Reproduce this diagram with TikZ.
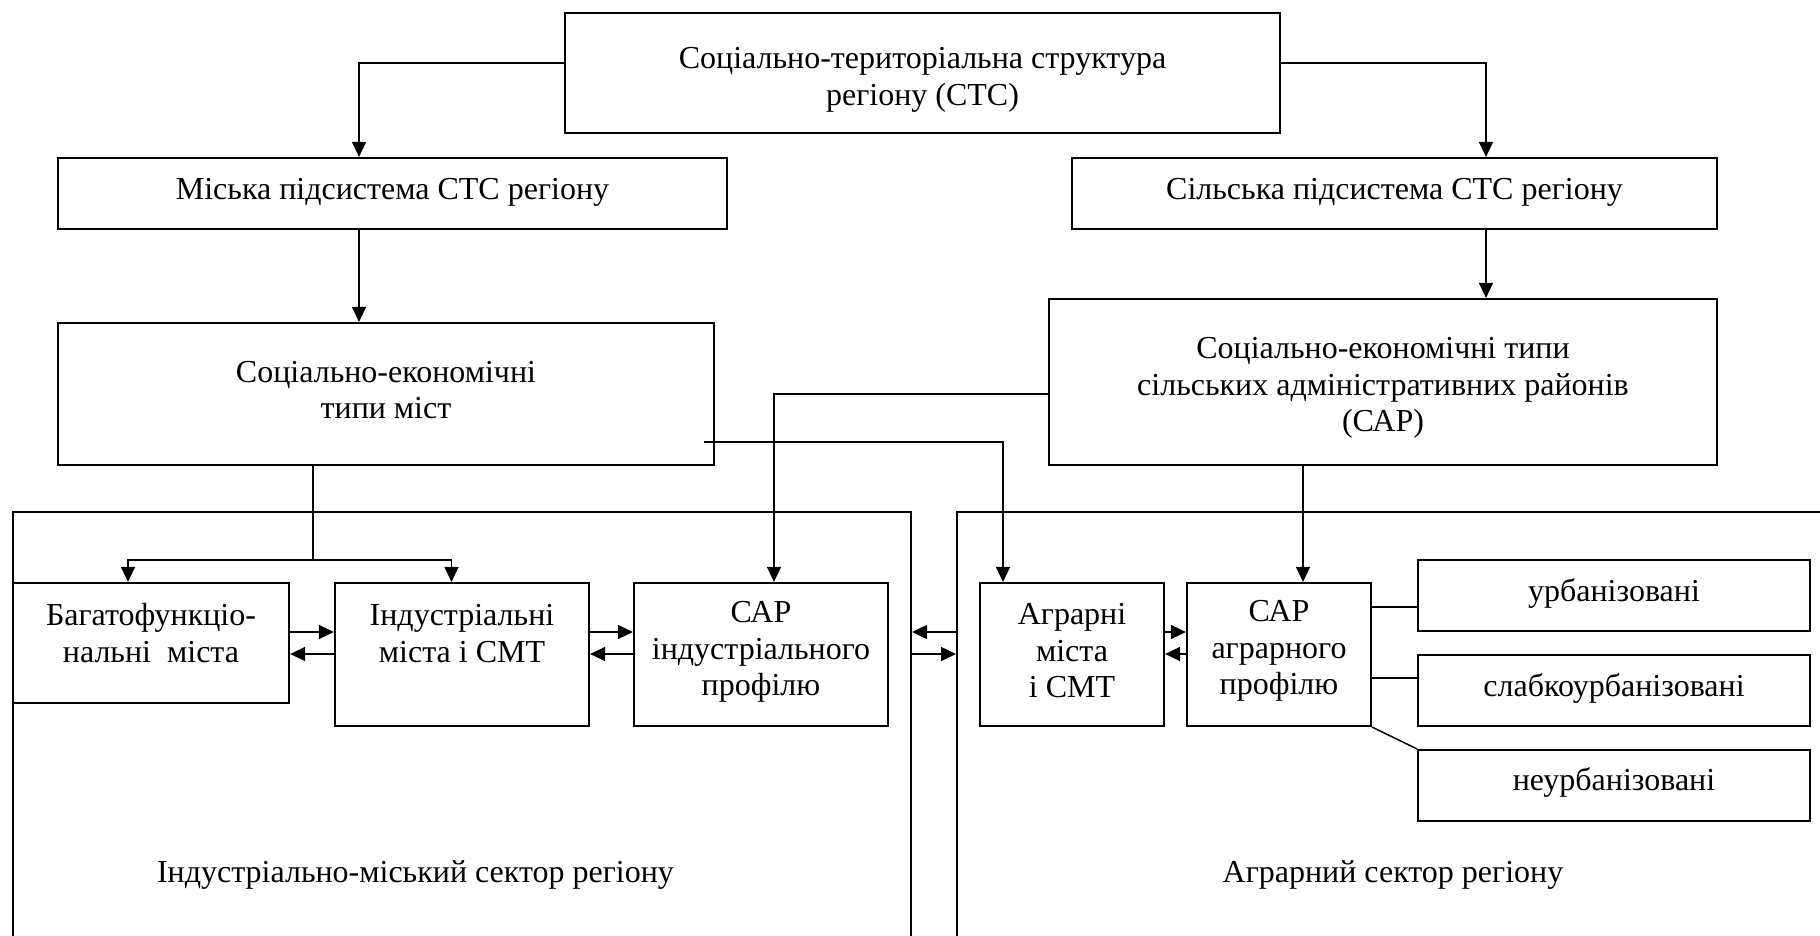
\documentclass[tikz,border=0pt]{standalone}
\usepackage{fontspec}
\setmainfont{Liberation Serif}
\usetikzlibrary{arrows.meta}

\begin{document}
\begin{tikzpicture}[x=1pt, y=-1pt,
    every node/.style={font=\fontsize{32}{36.5}\selectfont},
    box/.style={draw, line width=2.2pt, inner sep=0pt, rectangle},
    frame/.style={draw, line width=2pt, inner sep=0pt, rectangle},
    txt/.style={align=center, inner sep=0pt},
    link/.style={line width=1.5pt},
    arr/.style={line width=1.5pt, -{Triangle[length=15pt,width=14pt]}}]

\useasboundingbox (0,0) rectangle (1820,936);
\clip (0,0) rectangle (1820,936);

% ---- boxes ----
\node[box, minimum width=715pt, minimum height=120pt] (top)  at (922.5,73)   {};
\node[box, minimum width=669pt, minimum height=71pt]  (mis)  at (392.5,193.5) {};
\node[box, minimum width=645pt, minimum height=71pt]  (sil)  at (1394.5,193.5) {};
\node[box, minimum width=656pt, minimum height=142pt] (sem)  at (386,394)    {};
\node[box, minimum width=668pt, minimum height=166pt] (sap)  at (1383,382)   {};

% sector frames (open at the bottom edge of the page)
\node[frame, minimum width=898pt, minimum height=500pt] (frameL) at (462,762)  {};
\node[frame, minimum width=920pt, minimum height=500pt] (frameR) at (1417,762) {};

\node[box, minimum width=276pt, minimum height=120pt] (bag)  at (151,643)    {};
\node[box, minimum width=254pt, minimum height=143pt] (ind)  at (462,654.5)  {};
\node[box, minimum width=254pt, minimum height=143pt] (sapi) at (761,654.5)  {};
\node[box, minimum width=184pt, minimum height=143pt] (agr)  at (1072,654.5) {};
\node[box, minimum width=184pt, minimum height=143pt] (sapa) at (1279,654.5) {};
\node[box, minimum width=392pt, minimum height=71pt]  (urb)  at (1614,595.5) {};
\node[box, minimum width=392pt, minimum height=71pt]  (slab) at (1614,690.5) {};
\node[box, minimum width=392pt, minimum height=71pt]  (neurb) at (1614,785.5) {};

% ---- texts ----
\node[txt] (top-t)  at (922.5,80)  {Соціально-територіальна структура\\регіону (СТС)};
\node[txt] (mis-t)  at (392.5,192) {Міська підсистема СТС регіону};
\node[txt] (sil-t)  at (1394.5,192) {Сільська підсистема СТС регіону};
\node[txt] (sem-t)  at (386,390)   {Соціально-економічні\\типи міст};
\node[txt] (sap-t)  at (1383,388)  {Соціально-економічні типи\\сільських адміністративних районів\\(САР)};
\node[txt] (bag-t)  at (151,633)   {Багатофункціо-\\нальні\ \ міста};
\node[txt] (ind-t)  at (462,633.5) {Індустріальні\\міста і СМТ};
\node[txt] (sapi-t) at (761,652)   {САР\\індустріального\\профілю};
\node[txt] (agr-t)  at (1072,651)  {Аграрні\\міста\\і СМТ};
\node[txt] (sapa-t) at (1279,651)  {САР\\аграрного\\профілю};
\node[txt] (urb-t)  at (1614,593)  {урбанізовані};
\node[txt] (slab-t) at (1614,688)  {слабкоурбанізовані};
\node[txt] (neurb-t) at (1614,782) {неурбанізовані};
\node[txt] (frameL-t) at (415.5,875) {Індустріально-міський сектор регіону};
\node[txt] (frameR-t) at (1393,875)  {Аграрний сектор регіону};

% ---- helper rows ----
\coordinate (rowA) at (0,632);
\coordinate (rowB) at (0,654);
\coordinate (rowU) at (0,607);
\coordinate (rowS) at (0,678);
\coordinate (split) at ([shift={(-73pt,-94pt)}]sem.south);

% ---- connectors ----
\draw[arr] ([yshift=10pt]top.west) -| ([xshift=-33.5pt]mis.north);
\draw[arr] ([yshift=10pt]top.east) -| ([xshift=91.5pt]sil.north);
\draw[arr] ([xshift=-33.5pt]mis.south) -- ([xshift=-27pt]sem.north);
\draw[arr] ([xshift=91.5pt]sil.south) -- ([xshift=103pt]sap.north);

\draw[arr] ([yshift=-12pt]sap.west) -| ([xshift=13pt]sapi.north);
\draw[arr] ([shift={(-11pt,-48pt)}]sem.east) -| ([xshift=-69pt]agr.north);
\draw[arr] ([xshift=-80pt]sap.south) -- ([xshift=24pt]sapa.north);

\draw[link] (sem.south -| split) -- (split);
\draw[arr] (split) -| ([xshift=-23pt]bag.north);
\draw[arr] (split) -| ([xshift=-10.5pt]ind.north);

\draw[arr] (bag.east |- rowA) -- (ind.west |- rowA);
\draw[arr] (ind.west |- rowB) -- (bag.east |- rowB);
\draw[arr] (ind.east |- rowA) -- (sapi.west |- rowA);
\draw[arr] (sapi.west |- rowB) -- (ind.east |- rowB);
\draw[arr] (frameR.west |- rowA) -- (frameL.east |- rowA);
\draw[arr] (frameL.east |- rowB) -- (frameR.west |- rowB);
\draw[arr] (agr.east |- rowA) -- (sapa.west |- rowA);
\draw[arr] (sapa.west |- rowB) -- (agr.east |- rowB);

\draw[link] (sapa.east |- rowU) -- (urb.west |- rowU);
\draw[link] (sapa.east |- rowS) -- (slab.west |- rowS);
\draw[link] (sapa.south east) -- (neurb.north west);

\end{tikzpicture}
\end{document}
